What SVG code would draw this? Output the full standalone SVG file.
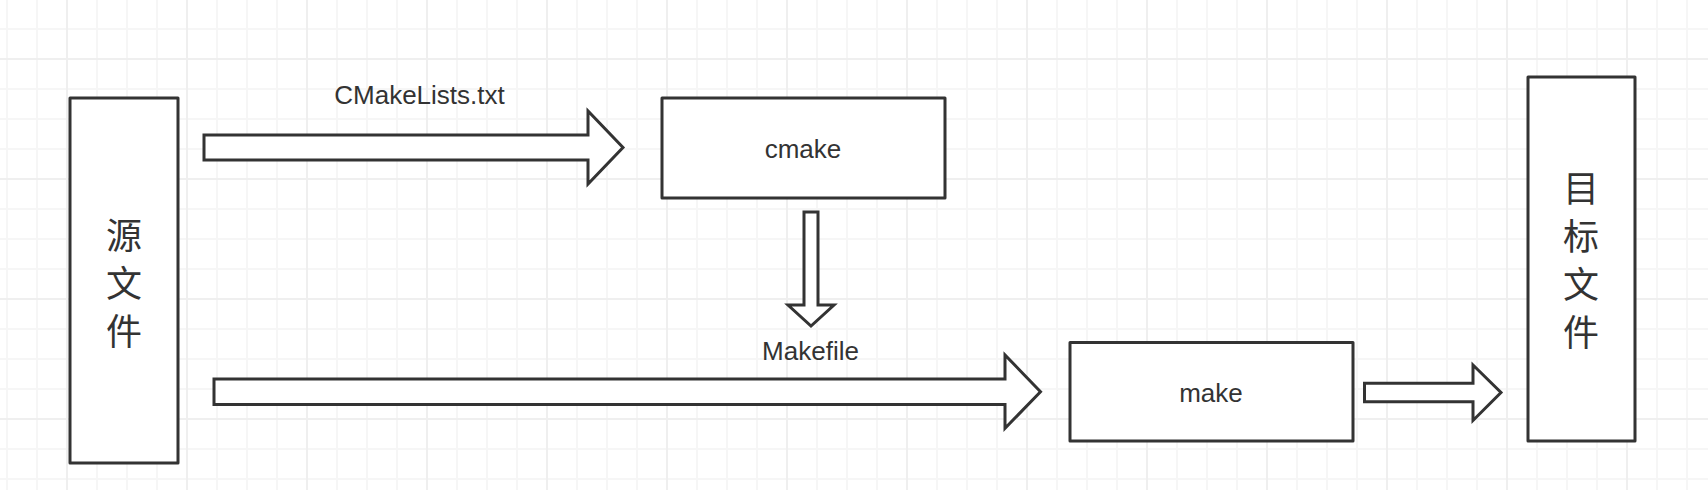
<svg xmlns="http://www.w3.org/2000/svg" width="1708" height="490" viewBox="0 0 1708 490">
  <defs>
    <pattern id="grid" patternUnits="userSpaceOnUse" x="52" y="44" width="120" height="120">
      <path d="M45 0V120M75 0V120M105 0V120M0 45H120M0 75H120M0 105H120" stroke="#f6f6f6" stroke-width="2" fill="none"/>
      <path d="M15 0V120M0 15H120" stroke="#efefef" stroke-width="2" fill="none"/>
    </pattern>
    <style>
      .box { fill: #ffffff; stroke: #333333; stroke-width: 3; stroke-linejoin: round; }
      .arrow { fill: #ffffff; stroke: #333333; stroke-width: 3; stroke-linejoin: miter; stroke-miterlimit: 10; }
      .lbl { font-family: "Liberation Sans", "Noto Sans", Arial, sans-serif; font-size: 26px; fill: #333333; text-anchor: middle; }
      .cjk { font-family: "Noto Sans CJK SC", "Noto Sans", sans-serif; font-size: 36px; fill: #333333; text-anchor: middle; }
    </style>
  </defs>
  <rect x="0" y="0" width="1708" height="490" fill="#ffffff"/>
  <rect x="0" y="0" width="1708" height="490" fill="url(#grid)"/>

  <g id="source">
    <rect class="box" x="70" y="98" width="108" height="365"/>
    <text class="cjk" x="124" y="249">源</text>
    <text class="cjk" x="124" y="297">文</text>
    <text class="cjk" x="124" y="345">件</text>
  </g>

  <g id="cmake">
    <rect class="box" x="662" y="98" width="283" height="100"/>
    <text class="lbl" x="803" y="158">cmake</text>
  </g>

  <g id="make">
    <rect class="box" x="1070" y="342.5" width="283" height="98.5"/>
    <text class="lbl" x="1211" y="401.5">make</text>
  </g>

  <g id="target">
    <rect class="box" x="1528" y="77" width="107" height="364"/>
    <text class="cjk" x="1581" y="202">目</text>
    <text class="cjk" x="1581" y="250">标</text>
    <text class="cjk" x="1581" y="298">文</text>
    <text class="cjk" x="1581" y="346">件</text>
  </g>

  <g id="connectors">
    <polygon class="arrow" points="204,135 588,135 588,111 623,147.5 588,184 588,160 204,160"/>
    <text class="lbl" x="419.5" y="104">CMakeLists.txt</text>
    <polygon class="arrow" points="804,212 818,212 818,305 834,305 811,326 788,305 804,305"/>
    <polygon class="arrow" points="214,379 1005,379 1005,355 1040.5,391.7 1005,428.4 1005,404.4 214,404.4"/>
    <text class="lbl" x="810.5" y="360">Makefile</text>
    <polygon class="arrow" points="1364.5,383.3 1473,383.3 1473,365 1501,392.5 1473,420.5 1473,401.7 1364.5,401.7"/>
  </g>
</svg>
